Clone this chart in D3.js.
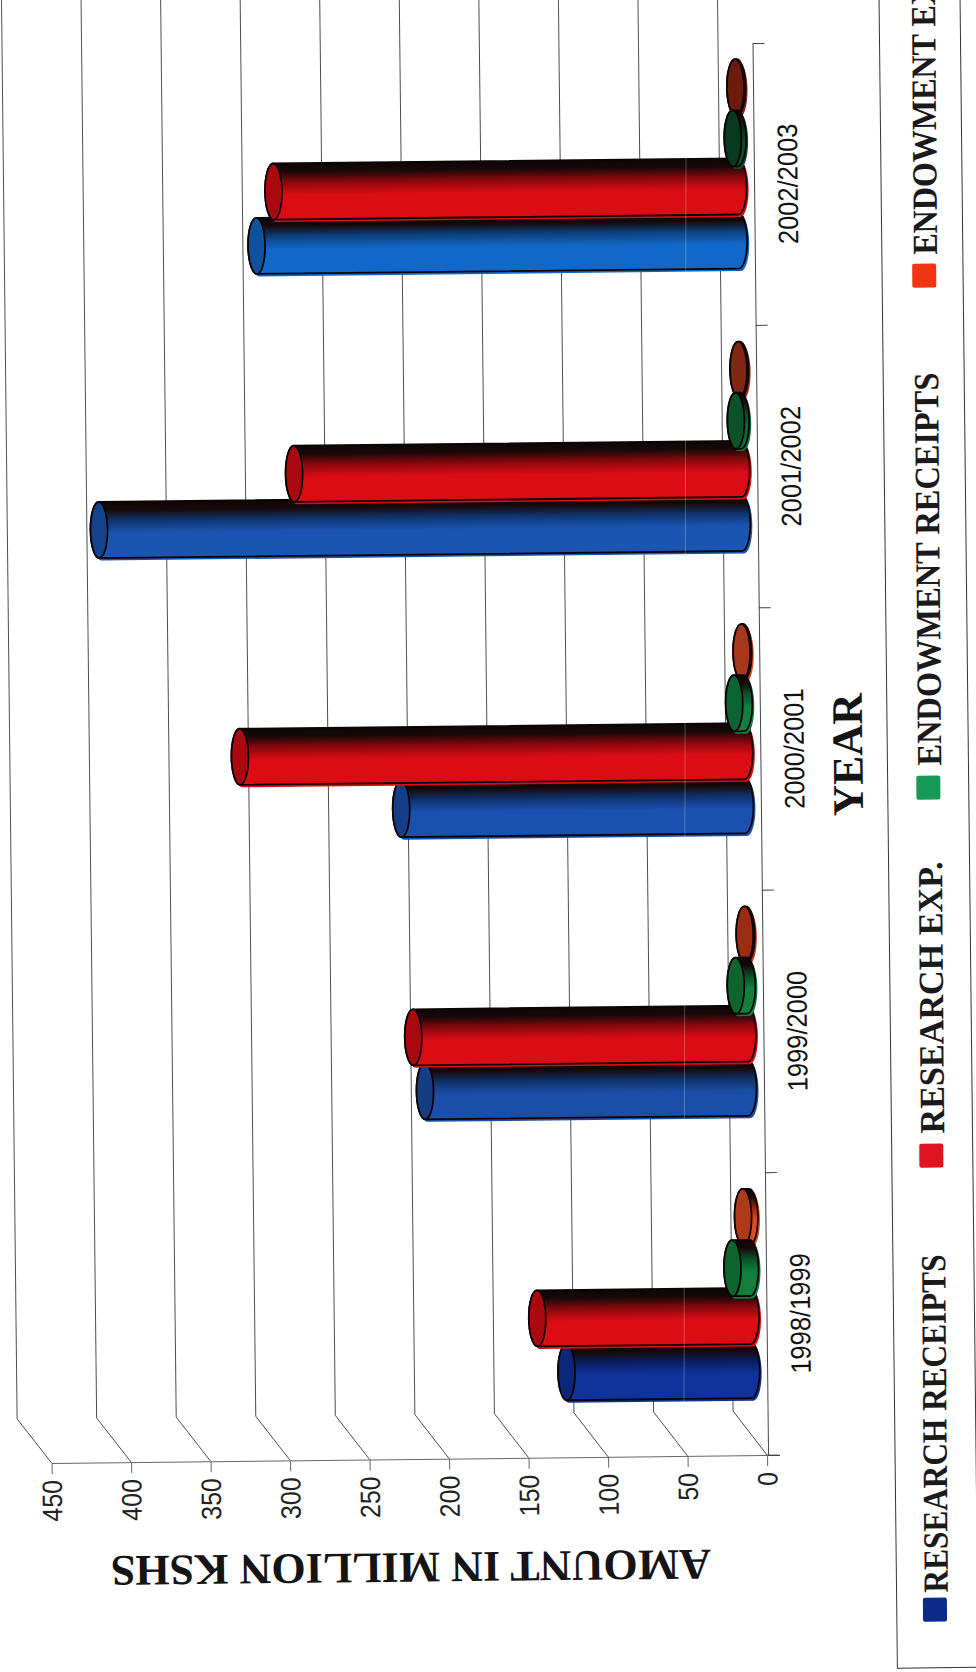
<!DOCTYPE html>
<html lang="en">
	<head>
		<meta charset="utf-8">
		<title>Research and endowment</title>
		<script src="https://d3js.org/d3.v7.min.js"></script>
		<style>
			html, body { margin: 0; background: #fff; }
			svg { display: block; }
		</style>
	</head>

	<body>
		<script type="text/javascript">

			// chart data (million Kshs)
			var years = ["1998/1999", "1999/2000", "2000/2001", "2001/2002", "2002/2003"]
			var seriesNames = ["RESEARCH RECEIPTS", "RESEARCH EXP.", "ENDOWMENT RECEIPTS", "ENDOWMENT EXP."]
			var researchReceipts = [116, 203, 216, 404, 303]
			var researchExp = [134, 210, 317, 281, 292]
			var endowmentReceipts = [11, 7, 6, 3, 3]
			var endowmentExp = [4, 1, 1, 1, 1]
			var valueTicks = [0, 50, 100, 150, 200, 250, 300, 350, 400, 450]

			// colours
			var legendColors = ["#0b2a8a", "#e01420", "#179a55", "#f03414"]
			var blueShades = ["#10329c", "#1a4ea8", "#1a50b0", "#1a55b4", "#1268c8"]
			var redShades = ["#dc0c14", "#dc0c14", "#dc0c14", "#dc0c14", "#dc0c14"]
			var greenShades = ["#12803c", "#12803c", "#108040", "#0f6a38", "#0a4a28"]
			var orangeShades = ["#e04a20", "#c83a18", "#d84820", "#a83018", "#8c2410"]

			// window setup
			var w = 976
			var h = 1672

			// legend layout along the page (text start, swatch start, text length)
			var legendTextY = [1600, 1141, 773, 262]
			var legendSwatchY = [1629, 1175, 807, 295]
			var legendTextLen = [338, 272, 393, 297]

			// the bars do not sit quite evenly in the print
			var seriesNudge = [0, -2, 2, 3]

			var valuesBySeries = [researchReceipts, researchExp, endowmentReceipts, endowmentExp]
			var shadesBySeries = [blueShades, redShades, greenShades, orangeShades]

			var svg = d3.select("body")
						.append("svg")
						.attr("width", w)
						.attr("height", h)
						.attr("viewBox", [0, 0, w, h])

			// the page sits a bit crooked on the scan
			var chart = svg.append("g").attr("transform", "rotate(-0.63)")

			// scales
			var xFront = d3.scaleLinear().domain([0, 450]).range([751, 35.5])
			var xBack = d3.scaleLinear().domain([0, 450]).range([717.5, 1.5])
			var xBar = d3.scaleLinear().domain([0, 450]).range([736, 20])
			var yCat = d3.scaleBand().domain(years).range([1463.4, 51.3])
			var ySeries = d3.scaleBand().domain(seriesNames).range([yCat.bandwidth() - 37, 37])

			var frontY = 1463.4
			var backY = 1419
			var depthY = 22

			// back wall lines
			chart.selectAll(".grid")
				.data(valueTicks)
				.enter()
				.append("path")
				.attr("class", "grid")
				.attr("d", function(d){
					return d3.line()([[xBack(d), -20], [xBack(d), backY], [xFront(d), frontY]])
				})
				.attr("fill", "none")
				.attr("stroke", "#3a3a3a")
				.attr("stroke-width", 0.9)

			// value axis (runs along the foot of the picture)
			var valueAxis = d3.axisBottom(xFront)
								.tickValues(valueTicks)
								.tickSize(11)
								.tickSizeOuter(0)

			var valueG = chart.append("g")
								.attr("transform", "translate(0," + frontY + ")")
								.call(valueAxis)

			valueG.select(".domain").attr("stroke", "#666")
			valueG.selectAll("line").attr("stroke", "#666")
			valueG.selectAll("text")
				.attr("x", null)
				.attr("y", null)
				.attr("dy", null)
				.attr("text-anchor", "end")
				.attr("font-family", "'Liberation Sans', Arial, sans-serif")
				.attr("font-size", 25)
				.attr("fill", "#222")
				.attr("transform", "translate(9.5,17) rotate(-90) scale(1,1.12)")

			// little stub past the zero on the value axis
			chart.append("line")
				.attr("x1", xFront(0))
				.attr("x2", xFront(0) + 12)
				.attr("y1", frontY)
				.attr("y2", frontY)
				.attr("stroke", "#666")

			// category axis on the right
			var catAxis = d3.axisRight(yCat).tickSize(0).tickSizeOuter(12)

			var catG = chart.append("g")
							.attr("transform", "translate(752,0)")
							.call(catAxis)

			catG.select(".domain").attr("stroke", "#444")
			catG.selectAll("text")
				.attr("x", null)
				.attr("y", null)
				.attr("dy", null)
				.attr("text-anchor", "middle")
				.attr("font-family", "'Liberation Sans', Arial, sans-serif")
				.attr("font-size", 25.5)
				.attr("fill", "#111")
				.attr("transform", "translate(43.5,0) rotate(-90) scale(1,1.1)")

			// ticks sit between the categories
			chart.selectAll(".catTick")
				.data(years.slice(0, -1))
				.enter()
				.append("line")
				.attr("class", "catTick")
				.attr("x1", 752)
				.attr("x2", 764)
				.attr("y1", function(d){ return yCat(d) })
				.attr("y2", function(d){ return yCat(d) })
				.attr("stroke", "#444")

			// gradients, one per series and year
			var defs = svg.append("defs")
			shadesBySeries.forEach(function(shades, s){
				shades.forEach(function(c, i){
					var g = defs.append("linearGradient")
								.attr("id", "grad" + s + "_" + i)
								.attr("x1", 0).attr("x2", 0)
								.attr("y1", 0).attr("y2", 1)
					var base = d3.color(c)
					g.append("stop").attr("offset", "0%").attr("stop-color", "#0e0606")
					g.append("stop").attr("offset", "14%").attr("stop-color", "#170808")
					g.append("stop").attr("offset", "34%").attr("stop-color", base.darker(1.3))
					g.append("stop").attr("offset", "56%").attr("stop-color", c)
					g.append("stop").attr("offset", "100%").attr("stop-color", c)
				})
			})

			// cylinders, endowment exp goes under endowment receipts
			var rx = 8.5
			var drawOrder = [0, 1, 3, 2]

			function cylinderPath(x0, x1, yc, r){
				return "M" + x0 + "," + (yc - r)
					+ "L" + x1 + "," + (yc - r)
					+ "A" + rx + "," + r + " 0 0 1 " + x1 + "," + (yc + r)
					+ "L" + x0 + "," + (yc + r)
					+ "A" + rx + "," + r + " 0 0 1 " + x0 + "," + (yc - r) + "Z"
			}

			drawOrder.forEach(function(s){
				var name = seriesNames[s]
				var r = ySeries.bandwidth() / 2 + 2
				var groups = chart.selectAll(".bar" + s)
								.data(valuesBySeries[s])
								.enter()
								.append("g")
								.attr("class", "bar" + s)

				function yc(d, i){
					return yCat(years[i]) + ySeries(name) + ySeries.bandwidth() / 2 - depthY + seriesNudge[s]
				}

				// colour fringe from the print being slightly off register
				groups.append("path")
					.attr("d", function(d, i){ return cylinderPath(xBar(d), xBar(0), yc(d, i), r) })
					.attr("transform", "translate(2,2.5)")
					.attr("fill", function(d, i){ return shadesBySeries[s][i] })

				groups.append("path")
					.attr("d", function(d, i){ return cylinderPath(xBar(d), xBar(0), yc(d, i), r) })
					.attr("fill", function(d, i){ return "url(#grad" + s + "_" + i + ")" })
					.attr("stroke", "#0c0505")
					.attr("stroke-width", 1.8)

				groups.append("ellipse")
					.attr("cx", function(d){ return xBar(d) })
					.attr("cy", function(d, i){ return yc(d, i) })
					.attr("rx", rx)
					.attr("ry", r)
					.attr("fill", function(d, i){ return d3.color(shadesBySeries[s][i]).darker(0.7) })
					.attr("stroke", "#0c0505")
					.attr("stroke-width", 1.8)
			})

			// faint streak from the scanner
			svg.append("line")
				.attr("x1", 686)
				.attr("x2", 684)
				.attr("y1", 150)
				.attr("y2", 1410)
				.attr("stroke", "#fff")
				.attr("stroke-opacity", 0.25)
				.attr("stroke-width", 1)

			// axis titles
			chart.append("text")
				.text("AMOUNT IN MILLION KSHS")
				.attr("text-anchor", "middle")
				.attr("textLength", 600)
				.attr("lengthAdjust", "spacingAndGlyphs")
				.attr("font-family", "'Liberation Serif', serif")
				.attr("font-weight", "bold")
				.attr("font-size", 38)
				.attr("fill", "#141414")
				.attr("transform", "translate(393.7,1557.5) rotate(180) scale(1,1.15)")

			chart.append("text")
				.text("YEAR")
				.attr("text-anchor", "middle")
				.attr("textLength", 123)
				.attr("lengthAdjust", "spacingAndGlyphs")
				.attr("font-family", "'Liberation Serif', serif")
				.attr("font-weight", "bold")
				.attr("font-size", 38)
				.attr("fill", "#141414")
				.attr("transform", "translate(854,764) rotate(-90) scale(1,1.15)")

			// legend frame
			chart.append("path")
				.attr("d", d3.line()([[879, -20], [879, 1678], [1000, 1678]]))
				.attr("fill", "none")
				.attr("stroke", "#333")
				.attr("stroke-width", 1)

			chart.append("line")
				.attr("x1", 960).attr("x2", 960)
				.attr("y1", -20).attr("y2", 1678)
				.attr("stroke", "#333")
				.attr("stroke-width", 1)

			// legend
			var legend = svg.append("g").attr("transform", "rotate(-0.46)")

			legend.selectAll("rect")
				.data(seriesNames)
				.enter()
				.append("rect")
				.attr("x", 910)
				.attr("y", function(d, i){ return legendSwatchY[i] - 24 })
				.attr("width", 24)
				.attr("height", 24)
				.attr("rx", 2)
				.attr("fill", function(d, i){ return legendColors[i] })

			legend.selectAll("text")
				.data(seriesNames)
				.enter()
				.append("text")
				.text(function(d){ return d })
				.attr("textLength", function(d, i){ return legendTextLen[i] })
				.attr("lengthAdjust", "spacingAndGlyphs")
				.attr("font-family", "'Liberation Serif', serif")
				.attr("font-weight", "bold")
				.attr("font-size", 29)
				.attr("fill", "#1a1a1a")
				.attr("transform", function(d, i){
					return "translate(935," + legendTextY[i] + ") rotate(-90) scale(1,1.22)"
				})

		</script>

	</body>
</html>
